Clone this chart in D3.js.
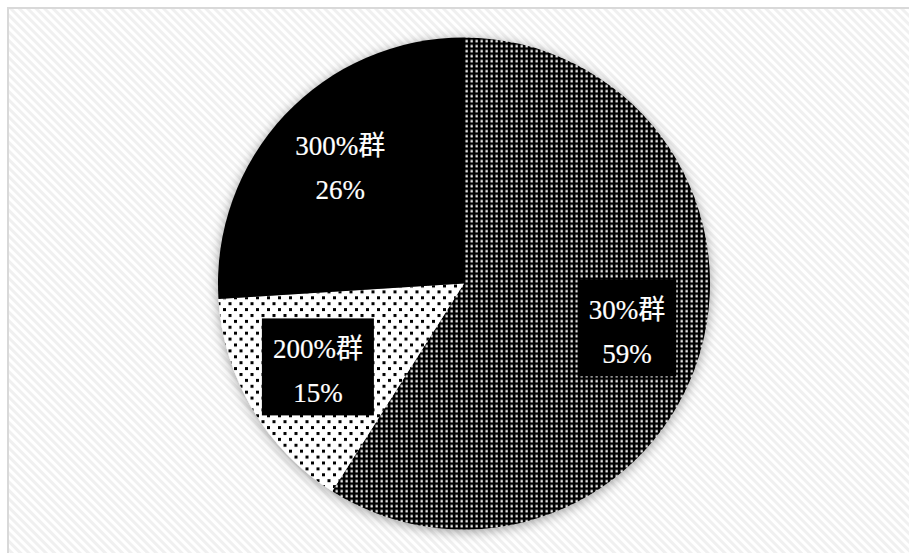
<!DOCTYPE html>
<html>
<head>
<meta charset="utf-8">
<script src="https://cdn.jsdelivr.net/npm/d3@7/dist/d3.min.js"></script>
<style>
  html, body { margin: 0; padding: 0; background: #fff; }
  svg { display: block; }
</style>
</head>
<body>
<script>
// Share of each group
const categories = ["30%群", "200%群", "300%群"];
const values = [59, 15, 26];
const percentLabels = ["59%", "15%", "26%"];

const W = 909, H = 553;
const svg = d3.select("body").append("svg").attr("width", W).attr("height", H);
const defs = svg.append("defs");

// Diagonal stripe texture for the chart area
const bg = defs.append("pattern").attr("id", "bgStripe")
  .attr("patternUnits", "userSpaceOnUse").attr("width", 6).attr("height", 6)
  .attr("patternTransform", "rotate(-45)");
bg.append("rect").attr("width", 6).attr("height", 6).attr("fill", "#ffffff");
bg.append("rect").attr("width", 3).attr("height", 6).attr("fill", "#f0f0f0");

// Dense white-dot grid on black
const dense = defs.append("pattern").attr("id", "dense")
  .attr("patternUnits", "userSpaceOnUse").attr("width", 5).attr("height", 5);
dense.append("rect").attr("width", 5).attr("height", 5).attr("fill", "#000");
dense.append("rect").attr("x", 1.5).attr("y", 1.5).attr("width", 2.3).attr("height", 2.3).attr("fill", "#fff");

// Sparse staggered black dots on white
const sparse = defs.append("pattern").attr("id", "sparse")
  .attr("patternUnits", "userSpaceOnUse").attr("width", 11).attr("height", 11.8);
sparse.append("rect").attr("width", 11).attr("height", 11.8).attr("fill", "#fff");
sparse.append("rect").attr("x", 1).attr("y", 1).attr("width", 3).attr("height", 3).attr("fill", "#000");
sparse.append("rect").attr("x", 6.5).attr("y", 6.9).attr("width", 3).attr("height", 3).attr("fill", "#000");

const shadow = defs.append("filter").attr("id", "pieShadow")
  .attr("x", "-20%").attr("y", "-20%").attr("width", "140%").attr("height", "140%");
shadow.append("feDropShadow").attr("dx", 0).attr("dy", 2).attr("stdDeviation", 6)
  .attr("flood-color", "#000").attr("flood-opacity", 0.38);

// Chart area
svg.append("rect").attr("x", 8).attr("y", 8).attr("width", W).attr("height", H)
  .attr("fill", "url(#bgStripe)").attr("stroke", "#d9d9d9").attr("stroke-width", 2);

const fills = ["url(#dense)", "url(#sparse)", "#000"];
const cx = 464, cy = 283.5, r = 246;

const pie = d3.pie().sort(null).value(d => d)
  .startAngle(0).endAngle(2 * Math.PI);
const arcs = pie(values);
const arc = d3.arc().innerRadius(0).outerRadius(r);
const labelArc = d3.arc().innerRadius(r * 0.69).outerRadius(r * 0.69);

const g = svg.append("g").attr("transform", `translate(${cx},${cy})`);
const slices = g.append("g").attr("filter", "url(#pieShadow)");
slices.selectAll("path").data(arcs).join("path")
  .attr("d", arc)
  .attr("fill", (d, i) => fills[i]);

// Labels: white text on a black box
const fontFamily = "'Liberation Serif', 'DejaVu Serif', 'Noto Sans CJK JP', serif";
const labels = g.selectAll("g.lbl").data(arcs).join("g").attr("class", "lbl")
  .attr("transform", d => { const c = labelArc.centroid(d); return `translate(${c[0]},${c[1]})`; });

labels.each(function (d, i) {
  const lg = d3.select(this);
  const box = lg.append("rect").attr("fill", "#000");
  const t = lg.append("text").attr("fill", "#fff").attr("text-anchor", "middle")
    .attr("stroke", "#fff").attr("stroke-width", 0.2)
    .style("font-family", fontFamily).style("font-size", "27px");
  t.append("tspan").attr("x", 0).attr("y", -12).text(categories[i]);
  t.append("tspan").attr("x", 0).attr("y", 32).text(percentLabels[i]);
  const bb = t.node().getBBox();
  const bw = bb.width + 22, bh = 97;
  box.attr("x", -bw / 2).attr("y", -bh / 2 - 3).attr("width", bw).attr("height", bh);
});
</script>
</body>
</html>
